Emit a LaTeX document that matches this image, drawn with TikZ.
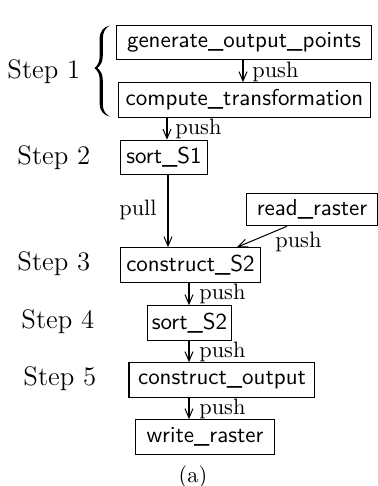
\documentclass[tikz,border=0pt]{standalone}
\usetikzlibrary{calc,arrows.meta}
\begin{document}
\begin{tikzpicture}[x=0.4484pt,y=-0.4484pt,
  proc/.style={draw,font=\fontsize{10.3}{12}\sffamily,minimum height=15.5pt,inner sep=0pt,line width=0.45pt},
  steplbl/.style={font=\large,anchor=west,inner sep=0pt},
  lbl/.style={inner sep=0pt},
  flow/.style={-{Straight Barb[length=4.2pt,width=3.6pt,line width=0.45pt]},line width=0.45pt}]
\useasboundingbox (0,0) rectangle (378,486);
% boxes
\node[proc,minimum width=113.9pt] (gen) at (244,42.5) {generate\_output\_points};
\node[proc,minimum width=112.6pt] (comp) at (244.5,100) {compute\_transformation};
\node[proc,minimum width=38.6pt] (s1) at (164,157.5) {sort\_S1};
\node[proc,minimum width=58.3pt,minimum height=14.6pt] (read) at (312,209.5) {read\_raster};
\node[proc,minimum width=63.2pt] (cs2) at (190.5,265) {construct\_S2};
\node[proc,minimum width=38.1pt] (s2) at (189.5,323) {sort\_S2};
\node[proc,minimum width=83.4pt] (co) at (222,380) {construct\_output};
\node[proc,minimum width=61.9pt] (wr) at (205,437) {write\_raster};
% step labels
\node[steplbl] (st1) at (7,72) {Step 1};
\node[steplbl] (st2) at (17,158) {Step 2};
\node[steplbl] (st3) at (17,264) {Step 3};
\node[steplbl] (st4) at (21,322) {Step 4};
\node[steplbl] (st5) at (23,379) {Step 5};
% brace
\fill (110,25.5) .. controls (104,26.5) and (99.6,31) .. (99.6,39)
  -- (99.6,57) .. controls (99.6,62) and (97.5,65.5) .. (94.5,68)
  .. controls (97.5,70.5) and (99.6,74) .. (99.6,79)
  -- (99.6,104) .. controls (99.6,111) and (104,115.5) .. (110,116.5)
  .. controls (105.5,114.5) and (102.8,110.5) .. (102.8,104)
  -- (102.8,80) .. controls (102.8,74) and (100.5,70.5) .. (97.3,68)
  .. controls (100.5,65.5) and (102.8,62) .. (102.8,56)
  -- (102.8,39) .. controls (102.8,32) and (105.5,27.5) .. (110,25.5) -- cycle;
% connectors
\draw[flow] (gen.south -| 243,0) coordinate (a1) -- (comp.north -| a1);
\node[lbl,anchor=west] (p1) at (252,72) {push};
\draw[flow] (comp.south -| 167,0) coordinate (a2) -- (s1.north -| a2);
\node[lbl,anchor=west] (p2) at (175,129) {push};
\draw[flow] (s1.south -| 168,0) coordinate (a3) -- (cs2.north -| a3);
\node[lbl,anchor=east] (p3) at (157,210) {pull};
\draw[flow] ($(read.south)+(-25,0)$) -- ($(cs2.north)+(46.5,0)$);
\node[lbl,anchor=west] (p4) at (275,242) {push};
\draw[flow] (cs2.south -| 189,0) coordinate (a5) -- (s2.north -| a5);
\node[lbl,anchor=west] (p5) at (199,294) {push};
\draw[flow] (s2.south -| 189,0) coordinate (a6) -- (co.north -| a6);
\node[lbl,anchor=west] (p6) at (199,352) {push};
\draw[flow] (co.south -| 189,0) coordinate (a7) -- (wr.north -| a7);
\node[lbl,anchor=west] (p7) at (199,409) {push};
\node[lbl] (cap) at (193,477) {(a)};
\end{tikzpicture}
\end{document}
